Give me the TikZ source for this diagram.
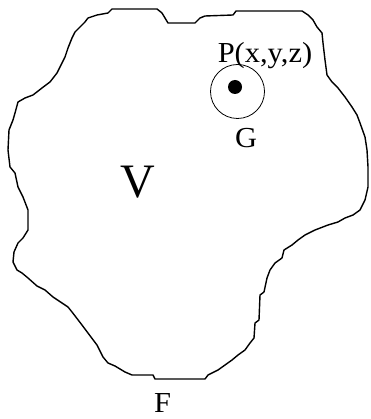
\documentclass[tikz,border=0pt]{standalone}
\usepackage{fontspec}
\setmainfont{Liberation Serif}
\usetikzlibrary{positioning}
\newcommand{\lbltext}[1]{\scalebox{1.05}[1]{#1}}
\tikzset{
  lbl/.style={anchor=base, inner sep=0pt, font=\fontsize{29}{34}\selectfont},
  outline/.style={line width=1.4pt, line join=round}
}

\begin{document}
\begin{tikzpicture}[x=1pt, y=-1pt]
      \useasboundingbox (0,0) rectangle (370,419);
      % region V with its boundary F
      \draw[outline] (112,9) -- (157,9) -- (162,13) -- (165,18) -- (168,23) -- (185,23)
        -- (195,23) -- (200,18) -- (205,16) -- (233,15) -- (236,11) -- (302,11)
        -- (308,15) -- (313,20) -- (317,27) -- (322,33) -- (323,43) -- (325,60)
        -- (327,75) -- (332,82) -- (338,88) -- (345,97) -- (352,107) -- (357,115)
        -- (360,123) -- (365,137) -- (367,150) -- (368,167) -- (368,187) -- (365,200)
        -- (360,210) -- (353,215) -- (345,218) -- (338,222) -- (328,225) -- (315,230)
        -- (305,235) -- (298,240) -- (292,245) -- (284,250) -- (282,258) -- (275,263)
        -- (270,270) -- (267,278) -- (264,292) -- (260,295) -- (259,320) -- (255,323)
        -- (254,338) -- (250,343) -- (245,350) -- (238,355) -- (232,360) -- (225,365)
        -- (218,370) -- (208,375) -- (205,379) -- (155,379) -- (153,375) -- (132,375)
        -- (125,372) -- (115,366) -- (108,363) -- (103,357) -- (97,345) -- (88,333)
        -- (82,325) -- (72,312) -- (68,307) -- (62,303) -- (53,297) -- (45,290)
        -- (37,286) -- (28,278) -- (22,273) -- (17,270) -- (13,262) -- (14,252)
        -- (18,243) -- (23,238) -- (28,230) -- (28,210) -- (23,197) -- (18,187)
        -- (15,173) -- (10,167) -- (8,150) -- (9,130) -- (13,120) -- (15,113)
        -- (18,102) -- (25,98) -- (33,95) -- (42,88) -- (50,82) -- (57,73)
        -- (62,63) -- (65,57) -- (68,48) -- (72,38) -- (75,32) -- (85,22)
        -- (88,18) -- (97,15) -- (108,13) -- cycle;

      % the point and its neighbourhood
      \node[draw, circle, line width=0.8pt, minimum size=54pt, inner sep=0pt] (ring) at (237.5,91.5) {};
      \node[fill, circle, minimum size=14pt, inner sep=0pt] (dot) at (235,87) {};

      \node[lbl] (plabel) at (265,63) {\lbltext{P(x,y,z)}};
      \node[lbl] (glabel) at (246,148) {\lbltext{G}};
      \node[anchor=base, inner sep=0pt, font=\fontsize{48}{56}\selectfont] (vlabel) at (137.5,197) {V};
      \node[lbl] (flabel) at (162.5,412) {\lbltext{F}};
\end{tikzpicture}
\end{document}
